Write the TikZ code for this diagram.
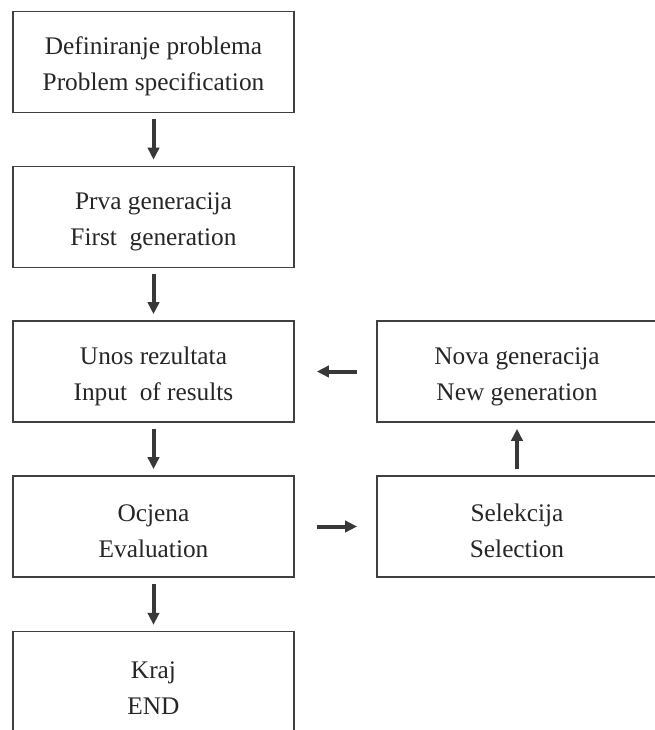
\documentclass[tikz,border=0pt]{standalone}
\usepackage{fontspec}
\setmainfont{Liberation Serif}
\usetikzlibrary{arrows.meta}
\def\gore{\rule{0pt}{20pt}}
\tikzset{
	korak/.style={draw=black!75, line width=1.1pt, minimum width=210.75pt, minimum height=75.75pt,
		inner sep=0pt, align=center, text=black!85, font=\fontsize{19}{27}\selectfont},
	strelica/.style={draw=black!78, line width=3pt, -{Triangle[width=8.5pt,length=9pt]}},
}

\begin{document}
\begin{tikzpicture}[x=0.75pt, y=-0.75pt]
			%%%%% START %%%%%
			\useasboundingbox (0, 0) rectangle (655, 730);
			
			% lijevi stupac
			\node[korak] (defin) at (153.5, 62) {\gore Definiranje problema\\Problem specification};
			\node[korak] (prva) at (153.5, 217) {\gore Prva generacija\\First\ \ generation};
			\node[korak] (unos) at (153.5, 371.5) {\gore Unos rezultata\\Input\ \ of results};
			\node[korak] (ocjena) at (153.5, 526.5) {\gore Ocjena\\Evaluation};
			\node[korak, minimum height=77pt] (kraj) at (153.5, 683) {\gore Kraj\\END};
			
			% desni stupac
			\node[korak, minimum width=210pt] (nova) at (517, 371.5) {\gore Nova generacija\\New generation};
			\node[korak, minimum width=210pt] (selekcija) at (517, 526.5) {\gore Selekcija\\Selection};
			
			% strelice
			\draw[strelica, shorten <=4.6pt, shorten >=4.6pt] (defin) -- (prva);
			\draw[strelica, shorten <=4.6pt, shorten >=4.6pt] (prva) -- (unos);
			\draw[strelica, shorten <=4.6pt, shorten >=4.6pt] (unos) -- (ocjena);
			\draw[strelica, shorten <=4.6pt, shorten >=4.6pt] (ocjena) -- (kraj);
			\draw[strelica, shorten <=14.4pt, shorten >=16.6pt] (nova) -- (unos);
			\draw[strelica, shorten <=16.6pt, shorten >=14.4pt] (ocjena) -- (selekcija);
			\draw[strelica, shorten <=4.6pt, shorten >=4.6pt] (selekcija) -- (nova);
			
			%%%%% END %%%%%
\end{tikzpicture}
\end{document}
